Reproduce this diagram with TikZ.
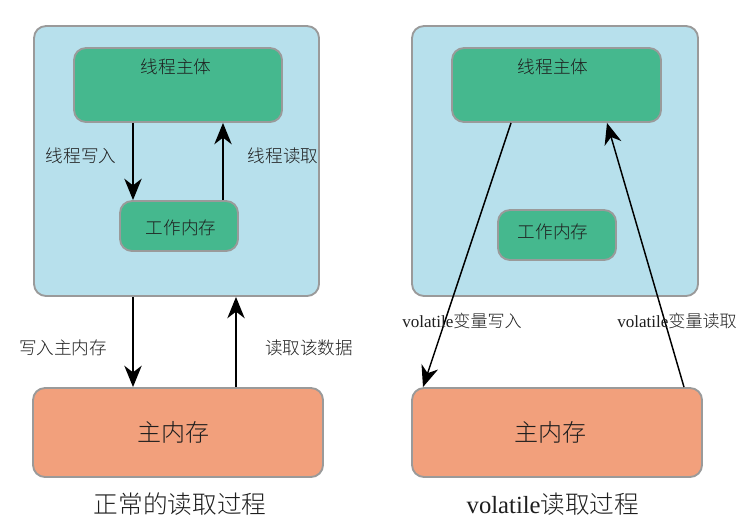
\documentclass[tikz,border=0pt]{standalone}
\usepackage{fontspec}
\setmainfont{Liberation Serif}
\newfontfamily\cjk{Noto Sans CJK SC}[UprightFont=* Light]
\usetikzlibrary{arrows.meta,fit}
\definecolor{panelblue}{HTML}{B7E0EC}
\definecolor{boxgreen}{HTML}{45B88E}
\definecolor{memorange}{HTML}{F2A07C}
\definecolor{edgegray}{HTML}{9A9A9A}
\definecolor{txt}{HTML}{1E1E1E}
\tikzset{
  panel/.style={draw=edgegray, line width=1.4pt, fill=panelblue, rounded corners=9pt, inner sep=0pt},
  greenbox/.style={draw=edgegray, line width=1.4pt, fill=boxgreen, rounded corners=9pt, inner sep=0pt},
  membox/.style={draw=edgegray, line width=1.4pt, fill=memorange, rounded corners=9pt, inner sep=0pt},
  lbl/.style={text=txt, font=\cjk\fontsize{13.2}{15}\selectfont, inner sep=0pt},
  memlbl/.style={text=txt, font=\cjk\fontsize{18}{21}\selectfont, inner sep=0pt},
  captxt/.style={text=txt, font=\fontsize{18.5}{22}\selectfont, inner sep=0pt},
  arr/.style={line width=1.6pt, -{Stealth[length=16pt, width=13pt, inset=5pt]}},
  thinarr/.style={line width=1.1pt, -{Stealth[length=16pt, width=13pt, inset=5pt]}},
}
\begin{document}
\begin{tikzpicture}[x=0.75pt, y=-0.75pt]
\useasboundingbox (0,0) rectangle (741,525);
% ---------- left ----------
\node[panel, fit={(34,26) (319,296)}] (lpanel) {};
\node[greenbox, fit={(74,48) (282,122)}] (ltop) {};
\node[greenbox, fit={(120,201) (238,251)}] (lwm) {};
\node[membox, fit={(33,388) (323,477)}] (lmem) {};
\node[lbl] (ltoptxt) at (176,67) {线程主体};
\node[lbl] (lwmtxt) at (181,228) {工作内存};
\node[memlbl] (lmemtxt) at (173,432) {主内存};
\coordinate (xa) at (133,0);
\coordinate (xb) at (223,0);
\coordinate (xc) at (236,0);
\draw[arr] (xa |- ltop.south) -- (xa |- lwm.north);
\draw[arr] (xb |- lwm.north) -- (xb |- ltop.south);
\draw[arr] (xa |- lpanel.south) -- (xa |- lmem.north);
\draw[arr] (xc |- lmem.north) -- (xc |- lpanel.south);
\node[lbl] (l1) at (81,156) {线程写入};
\node[lbl] (l2) at (283,156) {线程读取};
\node[lbl] (l3) at (63,348) {写入主内存};
\node[lbl] (l4) at (309,348) {读取该数据};
\node[captxt] (lcap) at (180,504) {\cjk 正常的读取过程};
% ---------- right ----------
\node[panel, fit={(412,26) (698,296)}] (rpanel) {};
\node[greenbox, fit={(452,48) (661,122)}] (rtop) {};
\node[greenbox, fit={(498,210) (616,260)}] (rwm) {};
\node[membox, fit={(412,388) (702,477)}] (rmem) {};
\node[lbl] (rtoptxt) at (553,67) {线程主体};
\node[lbl] (rwmtxt) at (553,232) {工作内存};
\node[memlbl] (rmemtxt) at (550,432) {主内存};
\coordinate (xd) at (511,0);
\coordinate (xe) at (423,0);
\coordinate (xf) at (684,0);
\coordinate (xg) at (607,0);
\draw[thinarr] (xd |- rtop.south) -- (xe |- rmem.north);
\draw[thinarr] (xf |- rmem.north) -- (xg |- rtop.south);
\node[lbl, font=\fontsize{12.8}{15}\selectfont] (r1) at (462,321) {volatile{\cjk 变量写入}};
\node[lbl, font=\fontsize{12.8}{15}\selectfont] (r2) at (677,321) {volatile{\cjk 变量读取}};
\node[captxt] (rcap) at (553,504) {volatile{\cjk 读取过程}};
\end{tikzpicture}
\end{document}
